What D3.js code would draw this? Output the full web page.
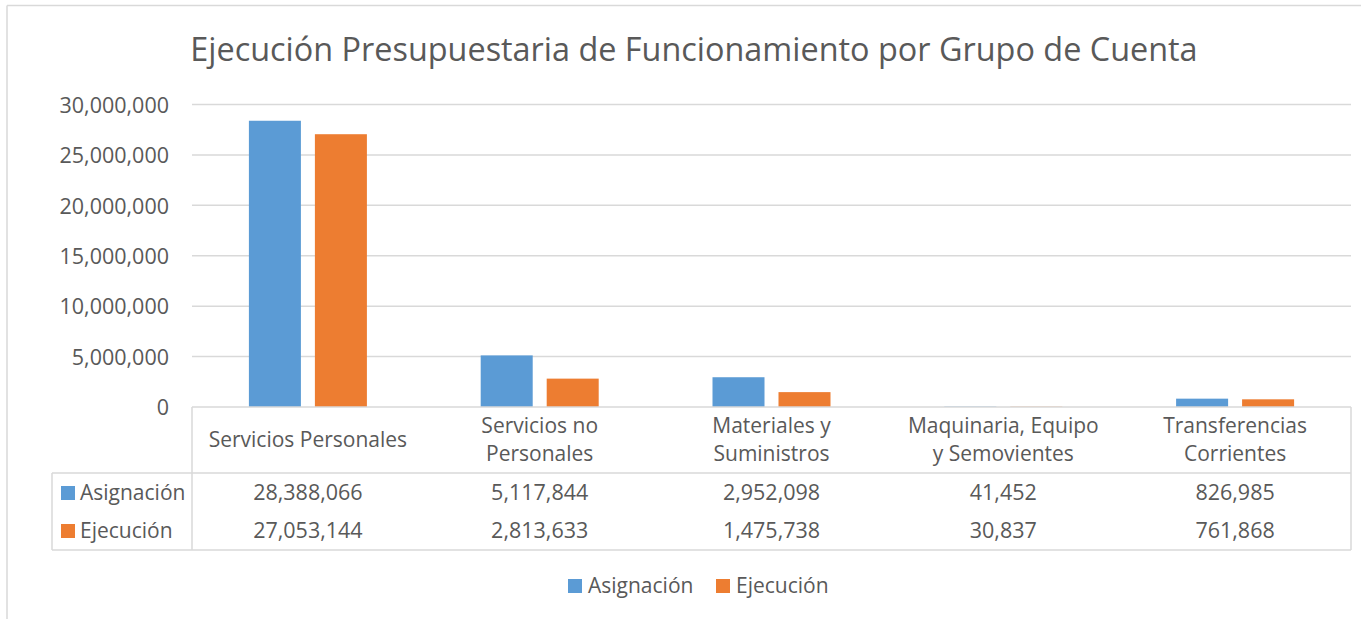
<!DOCTYPE html>
<html>
<head>
<meta charset="utf-8">
<script src="https://cdn.jsdelivr.net/npm/d3@7"></script>
<style>
  body { margin: 0; background: #fff; }
  text { font-family: "Open Sans", sans-serif; fill: #595959; }
</style>
</head>
<body>
<div id="chart"></div>
<script>
var categories = [
  ["Servicios Personales"],
  ["Servicios no", "Personales"],
  ["Materiales y", "Suministros"],
  ["Maquinaria, Equipo", "y Semovientes"],
  ["Transferencias", "Corrientes"]
];
var seriesNames = ["Asignación", "Ejecución"];
var asignacion = [28388066, 5117844, 2952098, 41452, 826985];
var ejecucion = [27053144, 2813633, 1475738, 30837, 761868];
var yTicks = [0, 5000000, 10000000, 15000000, 20000000, 25000000, 30000000];

var colors = ["#5B9BD5", "#ED7D31"];
var gridColor = "#D9D9D9";

var W = 1361, H = 619;
var plotLeft = 192, plotRight = 1351, plotTop = 104.5, plotBottom = 407;
var tableLeft = 52, headerBottom = 473, tableBottom = 550;

var svg = d3.select("#chart")
  .append("svg")
    .attr("width", W)
    .attr("height", H);

// outer chart border (only top and left are inside the picture)
svg.append("line").attr("x1", 7).attr("x2", W).attr("y1", 5.5).attr("y2", 5.5)
  .attr("stroke", gridColor).attr("stroke-width", 1.5);
svg.append("line").attr("x1", 7).attr("x2", 7).attr("y1", 5.5).attr("y2", H)
  .attr("stroke", gridColor).attr("stroke-width", 1.5);

svg.append("text")
  .attr("x", 694)
  .attr("y", 61)
  .attr("text-anchor", "middle")
  .style("font-size", "32.4px")
  .text("Ejecución Presupuestaria de Funcionamiento por Grupo de Cuenta");

var catIdx = categories.map(function(d, i) { return i; });

var x = d3.scaleBand()
  .domain(catIdx)
  .range([plotLeft, plotRight]);

var x1 = d3.scaleBand()
  .domain(seriesNames)
  .range([0, 118])
  .paddingInner(0.212);

var y = d3.scaleLinear()
  .domain([0, 30000000])
  .range([plotBottom, plotTop]);

// Y axis with gridlines
var yAxis = svg.append("g")
  .call(d3.axisLeft(y).tickValues(yTicks).tickFormat(d3.format(",")).tickSize(0).tickPadding(0));
yAxis.select(".domain").remove();
yAxis.selectAll("text")
  .attr("x", 169)
  .attr("dy", "0.36em")
  .style("font-size", "21.5px")
  .attr("fill", "#595959");

svg.append("g")
  .selectAll("line")
  .data(yTicks.filter(function(d) { return d > 0; }))
  .enter()
  .append("line")
    .attr("x1", plotLeft)
    .attr("x2", plotRight)
    .attr("y1", function(d) { return y(d); })
    .attr("y2", function(d) { return y(d); })
    .attr("stroke", gridColor)
    .attr("stroke-width", 1.5);

// Bars
var seriesData = [asignacion, ejecucion];
var groupOffset = (x.bandwidth() - 118) / 2;

seriesData.forEach(function(vals, s) {
  svg.append("g")
    .selectAll("rect")
    .data(vals)
    .enter()
    .append("rect")
      .attr("x", function(d, i) { return x(i) + groupOffset + x1(seriesNames[s]); })
      .attr("y", function(d) { return y(d); })
      .attr("width", x1.bandwidth())
      .attr("height", function(d) { return y(0) - y(d); })
      .attr("fill", colors[s]);
});

// Data table
var tbl = svg.append("g")
  .attr("fill", "none")
  .attr("stroke", gridColor)
  .attr("stroke-width", 1.5);
tbl.append("line").attr("x1", plotLeft).attr("x2", plotRight).attr("y1", plotBottom).attr("y2", plotBottom);
tbl.append("line").attr("x1", tableLeft).attr("x2", plotRight).attr("y1", headerBottom).attr("y2", headerBottom);
tbl.append("line").attr("x1", tableLeft).attr("x2", plotRight).attr("y1", tableBottom).attr("y2", tableBottom);
tbl.append("line").attr("x1", plotLeft).attr("x2", plotLeft).attr("y1", plotBottom).attr("y2", tableBottom);
tbl.append("line").attr("x1", plotRight).attr("x2", plotRight).attr("y1", plotBottom).attr("y2", tableBottom);
tbl.append("line").attr("x1", tableLeft).attr("x2", tableLeft).attr("y1", headerBottom).attr("y2", tableBottom);

// Category labels
var catLabels = svg.append("g")
  .selectAll("text")
  .data(categories)
  .enter()
  .append("text")
    .attr("text-anchor", "middle")
    .style("font-size", "21px")
    .attr("transform", function(d, i) { return "translate(" + (x(i) + x.bandwidth() / 2) + ",0)"; });

catLabels.selectAll("tspan")
  .data(function(d) { return d.map(function(t, j) { return {t: t, j: j, n: d.length}; }); })
  .enter()
  .append("tspan")
    .attr("x", 0)
    .attr("y", function(d) { return 447 + (d.j - (d.n - 1) / 2) * 28; })
    .text(function(d) { return d.t; });

// Table rows
var rowY = [500, 538];
var fmt = d3.format(",");

seriesData.forEach(function(vals, s) {
  svg.append("rect")
    .attr("x", 61)
    .attr("y", rowY[s] - 14)
    .attr("width", 14)
    .attr("height", 14)
    .attr("fill", colors[s]);
  svg.append("text")
    .attr("x", 80)
    .attr("y", rowY[s])
    .style("font-size", "21px")
    .text(seriesNames[s]);
  svg.append("g")
    .selectAll("text")
    .data(vals)
    .enter()
    .append("text")
      .attr("x", function(d, i) { return x(i) + x.bandwidth() / 2; })
      .attr("y", rowY[s])
      .attr("text-anchor", "middle")
      .style("font-size", "21.5px")
      .text(function(d) { return fmt(d); });
});

// Legend
var legendX = [568, 716];
seriesNames.forEach(function(name, s) {
  svg.append("rect")
    .attr("x", legendX[s])
    .attr("y", 579)
    .attr("width", 14)
    .attr("height", 14)
    .attr("fill", colors[s]);
  svg.append("text")
    .attr("x", legendX[s] + 20)
    .attr("y", 593)
    .style("font-size", "21px")
    .text(name);
});
</script>
</body>
</html>
